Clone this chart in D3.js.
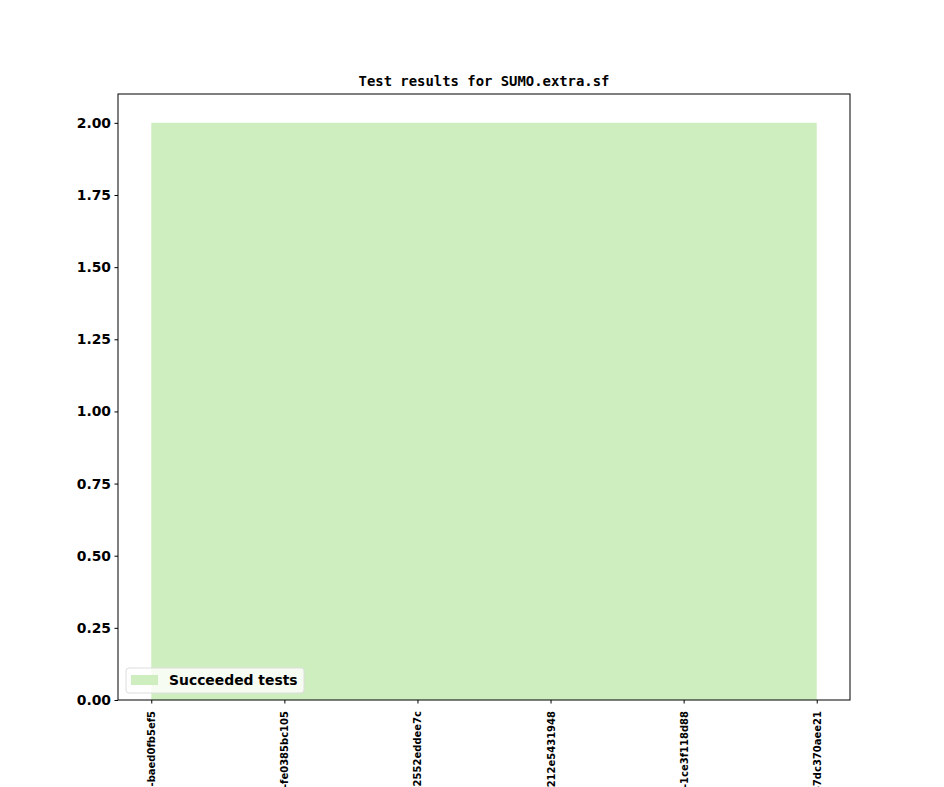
<!DOCTYPE html>
<html><head><meta charset="utf-8">
<script src="https://cdn.jsdelivr.net/npm/d3@7"></script>
<style>body{margin:0;background:#fff}</style>
</head><body><svg id="c" width="944" height="787"></svg>
<script>
const categories = ["6f1e2a7-baed0fb5ef5","3c9d41a-fe0385bc105","8a7b0e1-2552eddee7c","c4d9e3b1-212e5431948","5e2f0a9-1ce3f118d88","9b1c4e2-7dc370aee21"];
const succeeded = [2, 2, 2, 2, 2, 2];
const yTicks = [0, 0.25, 0.5, 0.75, 1.0, 1.25, 1.5, 1.75, 2.0];
const seriesName = "Succeeded tests";
const title = "Test results for SUMO.extra.sf";

const svg = d3.select("#c");
const L = 118, R = 850, T = 94, B = 700;
const x = d3.scaleLinear().domain([-0.25, categories.length - 0.75]).range([L, R]);
const y = d3.scaleLinear().domain([0, 2.1]).range([B, T]);

const area = d3.area().x((d, i) => x(i)).y0(y(0)).y1(d => y(d));
svg.append("path").datum(succeeded).attr("d", area).attr("fill", "#cfeebf");

svg.append("rect").attr("x", L).attr("y", T).attr("width", R - L).attr("height", B - T)
  .attr("fill", "none").attr("stroke", "#000").attr("stroke-width", 1);

const yAxis = svg.append("g").attr("transform", `translate(${L},0)`)
  .call(d3.axisLeft(y).tickValues(yTicks).tickFormat(d3.format(".2f")).tickSize(3.5).tickPadding(3.5));
yAxis.select(".domain").remove();
yAxis.selectAll("text").attr("font-family", "DejaVu Sans").attr("font-weight", "bold").attr("font-size", "13.9px").attr("fill", "#000");

const xAxis = svg.append("g").attr("transform", `translate(0,${B})`)
  .call(d3.axisBottom(x).tickValues(d3.range(categories.length)).tickFormat(i => categories[i]).tickSize(3.5));
xAxis.select(".domain").remove();
xAxis.selectAll("text")
  .attr("font-family", "DejaVu Sans").attr("font-weight", "bold").attr("font-size", "10px").attr("fill", "#000")
  .attr("text-anchor", "end").attr("transform", "rotate(-90)").attr("x", -11).attr("y", 0).attr("dy", "0.35em");

svg.append("text").attr("x", (L + R) / 2).attr("y", 86).attr("text-anchor", "middle")
  .attr("font-family", "DejaVu Sans Mono").attr("font-weight", "bold").attr("font-size", "13.9px").text(title);

const lg = svg.append("g").attr("transform", "translate(126,668)");
lg.append("rect").attr("width", 178).attr("height", 25).attr("rx", 3).attr("fill", "#fff").attr("fill-opacity", 0.8)
  .attr("stroke", "#ddd").attr("stroke-width", 1);
lg.append("rect").attr("x", 5).attr("y", 7).attr("width", 27).attr("height", 10).attr("fill", "#cfeebf");
lg.append("text").attr("x", 43).attr("y", 17).attr("font-family", "DejaVu Sans").attr("font-weight", "bold")
  .attr("font-size", "13.9px").text(seriesName);
</script></body></html>
